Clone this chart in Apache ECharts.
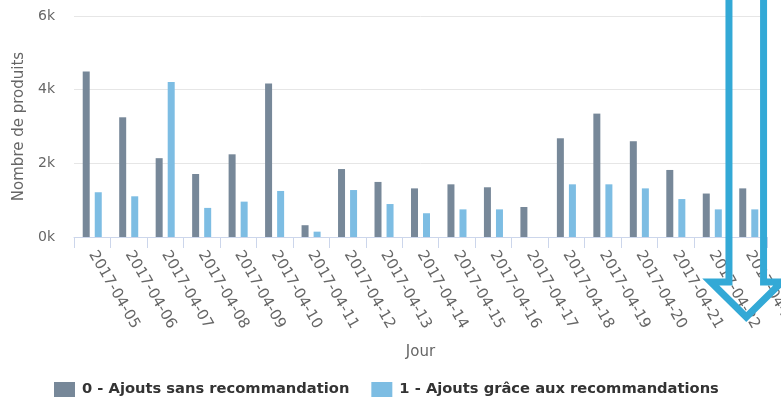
<!DOCTYPE html>
<html>
<head>
<meta charset="utf-8">
<script src="https://cdn.jsdelivr.net/npm/echarts@6/dist/echarts.min.js"></script>
<style>
  html, body { margin: 0; padding: 0; background: #ffffff; }
  #chart { width: 781px; height: 400px; }
</style>
</head>
<body>
<div id="chart"></div>
<script>
// Daily product additions, split by whether a recommendation was involved
const days = [
  '2017-04-05', '2017-04-06', '2017-04-07', '2017-04-08', '2017-04-09',
  '2017-04-10', '2017-04-11', '2017-04-12', '2017-04-13', '2017-04-14',
  '2017-04-15', '2017-04-16', '2017-04-17', '2017-04-18', '2017-04-19',
  '2017-04-20', '2017-04-21', '2017-04-22', '2017-04-23'
];
const sansReco = [
  4490, 3250, 2140, 1710, 2245, 4170, 320, 1845, 1495, 1320,
  1430, 1350, 815, 2680, 3350, 2600, 1820, 1180, 1320
];
const avecReco = [
  1215, 1105, 4210, 790, 960, 1250, 145, 1275, 895, 645,
  750, 750, 0, 1430, 1430, 1320, 1030, 750, 750
];
const yTicks = [0, 2000, 4000, 6000];

const FONT = 'DejaVu Sans';
const chart = echarts.init(document.getElementById('chart'), null, { renderer: 'canvas' });

chart.setOption({
  backgroundColor: '#ffffff',
  animation: false,
  textStyle: { fontFamily: FONT },
  grid: {
    left: 74, right: 14, top: 16, bottom: 163,
    containLabel: false,
    outerBoundsMode: 'none'
  },
  legend: {
    left: 54,
    top: 382,
    padding: 0,
    itemWidth: 21,
    itemHeight: 15,
    itemGap: 22,
    icon: 'rect',
    textStyle: {
      fontFamily: FONT, fontSize: 14.7, fontWeight: 'bold', color: '#333333',
      padding: [0, 0, 0, 2]
    },
    data: ['0 - Ajouts sans recommandation', '1 - Ajouts grâce aux recommandations']
  },
  xAxis: {
    type: 'category',
    data: days,
    name: 'Jour',
    nameLocation: 'middle',
    nameGap: 108,
    nameTextStyle: { fontFamily: FONT, fontSize: 15, color: '#666666' },
    axisLine: { lineStyle: { color: '#ccd6eb', width: 1 } },
    axisTick: { show: true, length: 11, lineStyle: { color: '#ccd6eb' } },
    axisLabel: {
      rotate: -60,
      margin: 15,
      fontFamily: FONT,
      fontSize: 15,
      color: '#666666'
    }
  },
  yAxis: {
    type: 'value',
    min: yTicks[0],
    max: yTicks[yTicks.length - 1],
    interval: yTicks[1] - yTicks[0],
    name: 'Nombre de produits',
    nameLocation: 'middle',
    nameGap: 46,
    nameTextStyle: { fontFamily: FONT, fontSize: 15, color: '#666666' },
    axisLine: { show: false },
    axisTick: { show: false },
    axisLabel: {
      margin: 19,
      fontFamily: FONT,
      fontSize: 14,
      color: '#666666',
      formatter: v => (v / 1000) + 'k'
    },
    splitLine: { lineStyle: { color: '#e6e6e6', width: 1 } }
  },
  series: [
    {
      name: '0 - Ajouts sans recommandation',
      type: 'bar',
      data: sansReco,
      barWidth: 7,
      barGap: '72%',
      itemStyle: { color: '#778899' }
    },
    {
      name: '1 - Ajouts grâce aux recommandations',
      type: 'bar',
      data: avecReco,
      barWidth: 7,
      barGap: '72%',
      itemStyle: { color: '#7dbde3' }
    }
  ]
});

// Hollow highlight arrow pointing down at the last day
const cx = chart.convertToPixel({ xAxisIndex: 0 }, days[days.length - 1]) - 2.5;
const halfShaft = 17.3;
const halfHead = 35.5;
const shoulderY = 282;
const tipY = 317;
chart.setOption({
  graphic: [{
    type: 'polyline',
    z: 100,
    shape: {
      points: [
        [cx - halfShaft, -10],
        [cx - halfShaft, shoulderY],
        [cx - halfHead, shoulderY],
        [cx, tipY],
        [cx + halfHead, shoulderY],
        [cx + halfShaft, shoulderY],
        [cx + halfShaft, -10]
      ]
    },
    style: { stroke: '#33a9d6', lineWidth: 7, fill: null, lineJoin: 'miter' }
  }]
});
</script>
</body>
</html>
